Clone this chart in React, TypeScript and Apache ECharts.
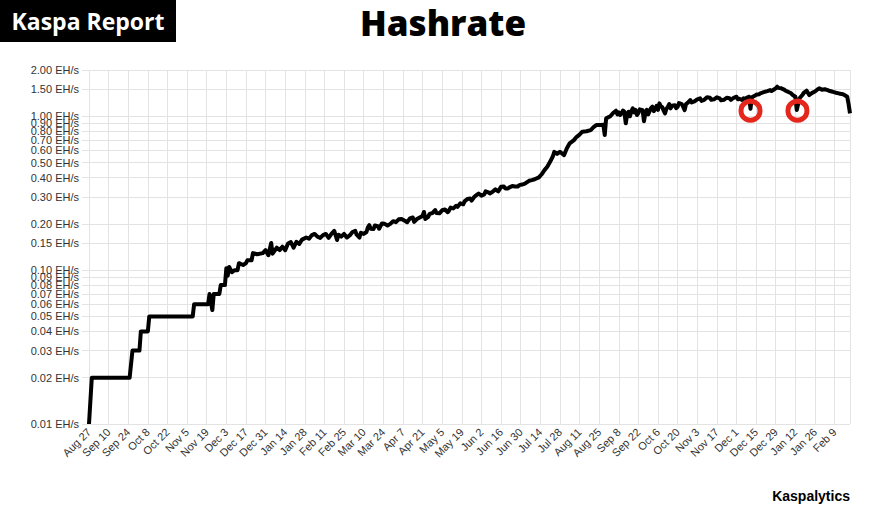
import React, { useEffect, useRef } from 'react';
import * as echarts from 'echarts';

// [day offset from Aug 27 (first tick), hashrate in EH/s]
const launchPhase: [number, number][] = [
  [0, 0.01], [2, 0.02], [29, 0.02], [31, 0.03], [36, 0.03], [37, 0.04], [42, 0.04], [43, 0.05],
  [74, 0.05], [75, 0.06], [85, 0.06], [86, 0.07], [88, 0.055], [89, 0.07], [93, 0.07], [94, 0.08], [97, 0.08],
];
const growthPhase: [number, number][] = [
  [98, 0.103], [99, 0.092], [100, 0.105], [102, 0.097], [104, 0.1], [106, 0.1], [107, 0.111], [110, 0.108],
  [112, 0.111], [113, 0.116], [116, 0.116], [117, 0.129], [120, 0.127], [124, 0.129], [126, 0.135], [128, 0.125],
  [130, 0.15], [131, 0.128], [134, 0.14], [136, 0.135], [138, 0.142], [140, 0.135], [142, 0.149], [144, 0.152],
  [146, 0.14], [148, 0.153], [150, 0.148], [152, 0.158], [155, 0.163], [157, 0.16], [159, 0.169], [161, 0.172],
  [163, 0.165], [165, 0.162], [167, 0.169], [169, 0.172], [171, 0.162], [173, 0.172], [175, 0.18], [177, 0.157],
  [178, 0.17], [180, 0.165], [182, 0.172], [184, 0.163], [186, 0.168], [188, 0.177], [190, 0.18], [191, 0.17],
  [193, 0.163], [194, 0.175], [196, 0.172], [198, 0.177], [199, 0.19], [200, 0.196], [201, 0.186], [203, 0.185],
  [204, 0.195], [206, 0.193], [207, 0.186], [209, 0.201], [211, 0.2], [213, 0.195], [215, 0.2], [217, 0.208],
  [219, 0.205], [221, 0.214], [223, 0.215], [225, 0.21], [227, 0.205], [229, 0.217], [231, 0.22], [232, 0.206],
  [234, 0.215], [236, 0.22], [238, 0.225], [239, 0.239], [240, 0.215], [242, 0.222], [243, 0.232], [245, 0.235],
  [247, 0.246], [248, 0.235], [250, 0.234], [252, 0.245], [254, 0.248], [256, 0.238], [257, 0.245], [258, 0.255],
  [260, 0.252], [262, 0.262], [263, 0.258], [265, 0.272], [267, 0.268], [268, 0.28], [270, 0.29], [272, 0.292],
  [273, 0.283], [275, 0.3], [276, 0.305], [278, 0.315], [280, 0.305], [282, 0.311], [283, 0.325], [285, 0.32],
  [286, 0.315], [288, 0.323], [290, 0.335], [291, 0.33], [292, 0.325], [294, 0.348], [296, 0.35], [297, 0.34],
  [299, 0.34], [300, 0.345], [302, 0.352], [304, 0.35], [306, 0.35], [307, 0.357], [309, 0.36], [311, 0.365],
  [314, 0.381], [316, 0.385], [318, 0.39], [321, 0.401], [323, 0.42], [325, 0.447], [327, 0.47], [329, 0.506],
];
const plateauPhase: [number, number][] = [
  [331, 0.55], [332, 0.588], [334, 0.57], [336, 0.588], [339, 0.56], [341, 0.62], [343, 0.667], [346, 0.7],
  [348, 0.736], [350, 0.76], [352, 0.794], [355, 0.8], [358, 0.814], [360, 0.85], [362, 0.877], [365, 0.877],
  [367, 0.88], [368, 0.755], [369, 0.97], [372, 1.0], [374, 1.05], [376, 1.087], [377, 1.03], [378, 1.06],
  [379, 1.02], [380, 1.045], [381, 1.09], [382, 1.07], [383, 0.9], [384, 1.03], [385, 1.071], [386, 1.0],
  [387, 1.08], [388, 1.127], [389, 1.06], [390, 1.1], [391, 1.02], [392, 1.05], [393, 1.11], [395, 1.098],
  [396, 0.93], [397, 1.05], [398, 1.1], [399, 1.03], [400, 1.08], [401, 1.13], [402, 1.154], [403, 1.08],
  [404, 1.12], [405, 1.17], [406, 1.1], [407, 1.214], [408, 1.16], [409, 1.15], [410, 1.09], [411, 1.045],
  [412, 1.12], [413, 1.15], [414, 1.2], [415, 1.127], [416, 1.17], [418, 1.18], [419, 1.13], [420, 1.154],
  [421, 1.22], [423, 1.2], [424, 1.15], [425, 1.098], [426, 1.2], [427, 1.22], [429, 1.276], [430, 1.23],
  [432, 1.25], [434, 1.29], [436, 1.309], [437, 1.26], [439, 1.28], [441, 1.33], [443, 1.321], [444, 1.28],
  [446, 1.29], [448, 1.33], [450, 1.309], [451, 1.27], [453, 1.28], [455, 1.32], [457, 1.309], [458, 1.28],
  [460, 1.32], [462, 1.341], [463, 1.29], [464, 1.3], [466, 1.276], [467, 1.31], [468, 1.3], [470, 1.33],
  [471, 1.341], [472, 1.12], [473, 1.33], [475, 1.36], [476, 1.38], [478, 1.39], [479, 1.411], [481, 1.43],
  [482, 1.44], [484, 1.46], [486, 1.482], [487, 1.46], [489, 1.5], [490, 1.52], [491, 1.557], [492, 1.53],
  [494, 1.52], [496, 1.49], [497, 1.467], [499, 1.44], [501, 1.411], [502, 1.38], [504, 1.34], [505, 1.1],
  [506, 1.2], [507, 1.309], [509, 1.375], [510, 1.42], [512, 1.467], [513, 1.42], [514, 1.375], [516, 1.42],
  [518, 1.45], [520, 1.5], [521, 1.52], [523, 1.49], [525, 1.5], [527, 1.48], [528, 1.467], [530, 1.45],
  [531, 1.44], [533, 1.423], [535, 1.41], [536, 1.4], [538, 1.39], [539, 1.375], [541, 1.341], [542, 1.2], [543, 1.045],
];

const xTickLabels = [
  'Aug 27', 'Sep 10', 'Sep 24', 'Oct 8', 'Oct 22', 'Nov 5', 'Nov 19', 'Dec 3', 'Dec 17', 'Dec 31',
  'Jan 14', 'Jan 28', 'Feb 11', 'Feb 25', 'Mar 10', 'Mar 24', 'Apr 7', 'Apr 21', 'May 5', 'May 19',
  'Jun 2', 'Jun 16', 'Jun 30', 'Jul 14', 'Jul 28', 'Aug 11', 'Aug 25', 'Sep 8', 'Sep 22', 'Oct 6',
  'Oct 20', 'Nov 3', 'Nov 17', 'Dec 1', 'Dec 15', 'Dec 29', 'Jan 12', 'Jan 26', 'Feb 9',
];
const xTickStep = 14;
const xMax = 543;

const yTickValues = [
  0.01, 0.02, 0.03, 0.04, 0.05, 0.06, 0.07, 0.08, 0.09, 0.1, 0.15,
  0.2, 0.3, 0.4, 0.5, 0.6, 0.7, 0.8, 0.9, 1.0, 1.5, 2.0,
];
const yTickLabels = [
  '0.01 EH/s', '0.02 EH/s', '0.03 EH/s', '0.04 EH/s', '0.05 EH/s', '0.06 EH/s', '0.07 EH/s', '0.08 EH/s',
  '0.09 EH/s', '0.10 EH/s', '0.15 EH/s', '0.20 EH/s', '0.30 EH/s', '0.40 EH/s', '0.50 EH/s', '0.60 EH/s',
  '0.70 EH/s', '0.80 EH/s', '0.90 EH/s', '1.00 EH/s', '1.50 EH/s', '2.00 EH/s',
];

// Circled dips
const circledDays = [472, 505.5];
const circledValues = [1.087, 1.087];

export default function App() {
  const ref = useRef<HTMLDivElement>(null);
  useEffect(() => {
    const chart = echarts.init(ref.current!, null, { renderer: 'svg' });
    const allPoints = [...launchPhase, ...growthPhase, ...plateauPhase];
    const lineData = allPoints.map(([d, v]) => [d, Math.log10(v)]);
    const logTicks = yTickValues.map((v) => Math.log10(v));
    const gridColor = '#e3e3e3';
    chart.setOption({
      animation: false,
      backgroundColor: '#fff',
      title: {
        text: 'Hashrate',
        left: 'center',
        top: 0,
        textStyle: { fontFamily: 'Open Sans', fontWeight: 800, fontSize: 35, color: '#000' },
      },
      graphic: [
        { type: 'rect', left: 0, top: 0, shape: { width: 176, height: 42 }, style: { fill: '#000' } },
        {
          type: 'text', x: 88, y: 21,
          style: { text: 'Kaspa Report', fill: '#fff', fontFamily: 'Open Sans', fontWeight: 700, fontSize: 23, align: 'center', verticalAlign: 'middle' },
        },
        {
          type: 'text', x: 850, y: 496,
          style: { text: 'Kaspalytics', fill: '#000', fontFamily: 'Liberation Sans', fontWeight: 700, fontSize: 14, align: 'right', verticalAlign: 'middle' },
        },
      ],
      grid: { left: 89, right: 36, top: 70, bottom: 92 },
      xAxis: {
        type: 'value',
        min: 0,
        max: xMax,
        interval: xTickStep,
        axisLine: { show: false },
        axisTick: { show: true, length: 6, lineStyle: { color: gridColor } },
        splitLine: { show: true, lineStyle: { color: gridColor, width: 1 } },
        axisLabel: {
          rotate: 45,
          margin: 6,
          fontSize: 11,
          fontFamily: 'Liberation Sans',
          color: '#333',
          showMaxLabel: false,
          formatter: (v: number) => (v % xTickStep === 0 ? xTickLabels[v / xTickStep] ?? '' : ''),
        },
      },
      yAxis: {
        type: 'value',
        min: Math.log10(0.01),
        max: Math.log10(2),
        axisLine: { show: false },
        axisTick: { show: true, length: 7, customValues: logTicks, lineStyle: { color: gridColor } },
        splitLine: { show: true, lineStyle: { color: gridColor, width: 1 } },
        axisLabel: {
          customValues: logTicks,
          margin: 10,
          fontSize: 11,
          fontFamily: 'Liberation Sans',
          color: '#333',
          formatter: (val: number) => {
            let best = 0;
            for (let i = 0; i < logTicks.length; i++) {
              if (Math.abs(logTicks[i] - val) < Math.abs(logTicks[best] - val)) best = i;
            }
            return yTickLabels[best];
          },
        },
      },
      series: [
        {
          type: 'line',
          data: lineData,
          showSymbol: false,
          symbol: 'none',
          lineStyle: { color: '#000', width: 4, join: 'round' },
          markPoint: {
            symbol: 'circle',
            symbolSize: 19,
            label: { show: false },
            itemStyle: { color: 'rgba(0,0,0,0)', borderColor: '#e4261c', borderWidth: 5 },
            data: circledDays.map((d, i) => ({ coord: [d, Math.log10(circledValues[i])] })),
          },
        },
      ],
    });
    return () => chart.dispose();
  }, []);
  return (
    <div
      ref={ref}
      style={{ position: 'fixed', left: 0, top: 0, width: 886, height: 516, background: '#fff' }}
    />
  );
}
